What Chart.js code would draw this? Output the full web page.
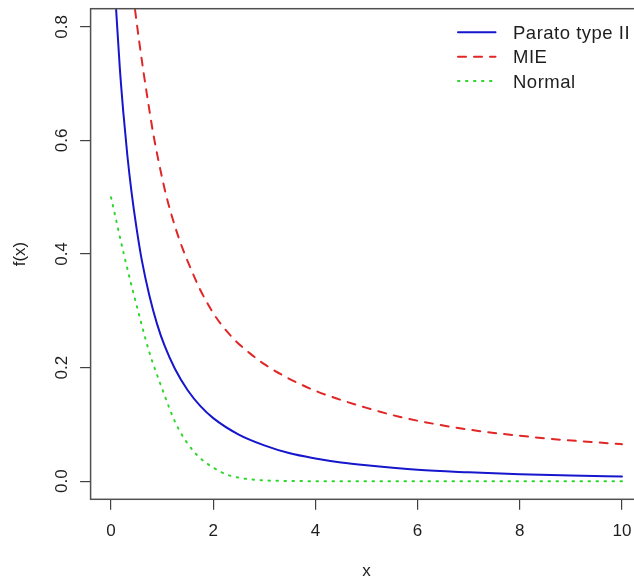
<!DOCTYPE html>
<html>
<head>
<meta charset="utf-8">
<script src="https://cdn.jsdelivr.net/npm/chart.js@4/dist/chart.umd.min.js"></script>
<style>
  html, body { margin: 0; padding: 0; overflow: hidden; background: #ffffff; }
  canvas { display: block; }
</style>
</head>
<body>
<canvas id="c" width="643" height="581"></canvas>
<script>
// Density curves f(x) for three distributions
const seriesNames = ['Parato type II', 'MIE', 'Normal'];

const paretoX = [0.10, 0.17, 0.24, 0.32, 0.40, 0.50, 0.60, 0.75, 0.90, 1.05, 1.25, 1.50, 1.75, 2.00, 2.50, 3.00, 3.50, 4.00, 4.50, 5.00, 6.00, 7.00, 8.00, 9.00, 10.00];
const paretoY = [0.830, 0.730, 0.650, 0.573, 0.510, 0.445, 0.390, 0.327, 0.277, 0.238, 0.198, 0.160, 0.132, 0.111, 0.082, 0.063, 0.049, 0.040, 0.033, 0.028, 0.020, 0.0155, 0.012, 0.0098, 0.0080];

const mieX = [0.47, 0.55, 0.63, 0.73, 0.83, 0.95, 1.08, 1.25, 1.42, 1.60, 1.74, 2.00, 2.20, 2.45, 2.72, 3.00, 3.37, 3.70, 4.00, 4.40, 5.00, 5.66, 6.50, 7.22, 8.00, 8.79, 9.40, 10.00];
const mieY = [0.830, 0.775, 0.724, 0.665, 0.610, 0.555, 0.503, 0.449, 0.405, 0.366, 0.338, 0.296, 0.271, 0.246, 0.225, 0.206, 0.186, 0.171, 0.159, 0.146, 0.129, 0.113, 0.098, 0.088, 0.080, 0.073, 0.069, 0.065];

const normalX = [0, 0.25, 0.50, 0.75, 1.00, 1.25, 1.50, 1.75, 2.00, 2.25, 2.50, 2.75, 3.00, 3.50, 4.00, 5.00, 6.00, 7.00, 8.00, 9.00, 10.00];
const normalY = [0.500, 0.400, 0.310, 0.227, 0.163, 0.105, 0.066, 0.040, 0.024, 0.012, 0.006, 0.003, 0.0013, 0.0002, 0, 0, 0, 0, 0, 0, 0];

const xTicks = [0, 2, 4, 6, 8, 10];
const xTickLabels = ['0', '2', '4', '6', '8', '10'];
const yTicks = [0, 0.2, 0.4, 0.6, 0.8];
const yTickLabels = ['0.0', '0.2', '0.4', '0.6', '0.8'];
const xTitle = 'x';
const yTitle = 'f(x)';

const FONT = '17px "Liberation Sans", Arial, sans-serif';
const KEY_FONT = '18.5px "Liberation Sans", Arial, sans-serif';
const INK = '#1e1e1e';

function pts(xs, ys) { return xs.map((x, i) => ({ x: x, y: ys[i] })); }

// Frame, tick labels, axis titles and the key, drawn in R base-graphics style
const framePlugin = {
  id: 'frame',
  afterDraw(chart) {
    const ctx = chart.ctx;
    const a = chart.chartArea;
    const xs = chart.scales.x, ys = chart.scales.y;
    ctx.save();
    ctx.strokeStyle = '#505050';
    ctx.lineWidth = 1.5;
    ctx.setLineDash([]);
    ctx.strokeRect(a.left, a.top, a.right - a.left, a.bottom - a.top);

    ctx.fillStyle = INK;
    ctx.font = FONT;
    ctx.textAlign = 'center';
    ctx.textBaseline = 'alphabetic';
    xTicks.forEach((v, i) => {
      ctx.fillText(xTickLabels[i], xs.getPixelForValue(v), 535.8);
    });
    yTicks.forEach((v, i) => {
      ctx.save();
      ctx.translate(67.2, ys.getPixelForValue(v));
      ctx.rotate(-Math.PI / 2);
      ctx.fillText(yTickLabels[i], 0, 0);
      ctx.restore();
    });
    ctx.fillText(xTitle, (a.left + a.right) / 2, 576);
    ctx.save();
    ctx.translate(25, (a.top + a.bottom) / 2);
    ctx.rotate(-Math.PI / 2);
    ctx.fillText(yTitle, 0, 0);
    ctx.restore();

    // key
    const rowY = [32.3, 56.8, 81.0];
    chart.data.datasets.forEach((ds, i) => {
      const y = rowY[i];
      ctx.save();
      ctx.strokeStyle = ds.borderColor;
      ctx.lineWidth = ds.borderWidth;
      ctx.lineCap = 'round';
      ctx.setLineDash(ds.borderDash || []);
      ctx.beginPath();
      ctx.moveTo(458, y);
      ctx.lineTo(495.5, y);
      ctx.stroke();
      ctx.restore();
      ctx.save();
      ctx.fillStyle = INK;
      ctx.font = KEY_FONT;
      if ('letterSpacing' in ctx) ctx.letterSpacing = '0.5px';
      ctx.textAlign = 'left';
      ctx.textBaseline = 'alphabetic';
      ctx.fillText(ds.label, 513, y + 6.5);
      ctx.restore();
    });
    ctx.restore();
  }
};

new Chart(document.getElementById('c'), {
  type: 'line',
  data: {
    datasets: [
      {
        label: seriesNames[0],
        data: pts(paretoX, paretoY),
        borderColor: '#1616cc',
        borderWidth: 2,
        borderDash: [],
        borderCapStyle: 'round',
        borderJoinStyle: 'round',
        cubicInterpolationMode: 'monotone',
        pointRadius: 0,
        fill: false
      },
      {
        label: seriesNames[1],
        data: pts(mieX, mieY),
        borderColor: '#e02626',
        borderWidth: 2,
        borderDash: [8, 8],
        borderCapStyle: 'round',
        borderJoinStyle: 'round',
        cubicInterpolationMode: 'monotone',
        pointRadius: 0,
        fill: false
      },
      {
        label: seriesNames[2],
        data: pts(normalX, normalY),
        borderColor: '#2ed62e',
        borderWidth: 2,
        borderDash: [1.5, 6.5],
        borderCapStyle: 'round',
        borderJoinStyle: 'round',
        cubicInterpolationMode: 'monotone',
        pointRadius: 0,
        fill: false
      }
    ]
  },
  options: {
    responsive: false,
    animation: false,
    events: [],
    layout: { padding: { top: 8.7, left: 0, right: 0.6, bottom: 0 } },
    plugins: { legend: { display: false }, tooltip: { enabled: false } },
    scales: {
      x: {
        type: 'linear',
        min: -0.4,
        max: 10.4,
        afterBuildTicks: s => { s.ticks = xTicks.map(v => ({ value: v })); },
        afterFit: s => { s.height = 81.7; },
        ticks: { display: false },
        border: { display: false },
        grid: { drawOnChartArea: false, drawTicks: true, tickLength: 10.5, color: '#404040', lineWidth: 1.2 }
      },
      y: {
        type: 'linear',
        min: -0.032,
        max: 0.832,
        afterBuildTicks: s => { s.ticks = yTicks.map(v => ({ value: v })); },
        afterFit: s => { s.width = 90.6; },
        ticks: { display: false },
        border: { display: false },
        grid: { drawOnChartArea: false, drawTicks: true, tickLength: 10.5, color: '#404040', lineWidth: 1.2 }
      }
    }
  },
  plugins: [framePlugin]
});
</script>
</body>
</html>
